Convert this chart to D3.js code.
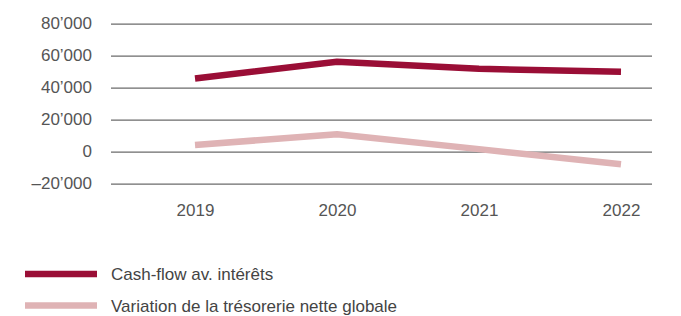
<html>
<head>
    <style>
        body { margin: 0; background: #ffffff; font-family: "Liberation Sans", Helvetica, Arial, sans-serif; }
        svg { display: block; }
    </style>
    <script src="https://cdn.jsdelivr.net/npm/d3@7"></script>
</head>
<body>
<svg id="grafico"></svg>
<script>
    // Datos
    let annees = ["2019", "2020", "2021", "2022"];
    let cashFlow = [45800, 56200, 51800, 50000];
    let variationTresorerie = [4200, 10900, 1600, -7900];
    let ticksY = [-20000, 0, 20000, 40000, 60000, 80000];
    let series = [
        { nom: "Cash-flow av. intérêts", valeurs: cashFlow, couleur: "#9a0e36" },
        { nom: "Variation de la trésorerie nette globale", valeurs: variationTresorerie, couleur: "#dfb3b5" }
    ];

    let ancho = 681, alto = 316;
    let police = "\"Liberation Sans\", Helvetica, Arial, sans-serif";
    let svg = d3.select("#grafico").attr("width", ancho).attr("height", alto);

    let escalaX = d3.scalePoint().domain(annees).range([195, 621]);
    let escalaY = d3.scaleLinear().domain([-20000, 80000]).range([183.7, 23.7]);

    let formato = v => {
        if (v === 0) return "0";
        let s = d3.format(",")(Math.abs(v)).replace(/,/g, "\u2019");
        return (v < 0 ? "\u2013" : "") + s;
    };

    // grille horizontale
    let ejeY = d3.axisLeft(escalaY).tickValues(ticksY).tickFormat(formato)
        .tickSize(-(652 - 111)).tickPadding(19);
    let gY = svg.append("g").attr("transform", "translate(111,0)").call(ejeY);
    gY.select(".domain").remove();
    gY.selectAll("line").attr("stroke", "#6b6b6b").attr("stroke-width", 1.2);
    gY.selectAll("text").attr("fill", "#555").attr("dy", "0.28em")
        .style("font-size", "17px").style("font-family", police);

    // axe des années
    let ejeX = d3.axisBottom(escalaX).tickSize(0).tickPadding(0);
    let gX = svg.append("g").attr("transform", "translate(0,204)").call(ejeX);
    gX.select(".domain").remove();
    gX.selectAll("text").attr("fill", "#555")
        .style("font-size", "17px").style("font-family", police);

    // lignes
    let linea = d3.line().x((d, i) => escalaX(annees[i])).y(d => escalaY(d));
    svg.selectAll(".serie")
        .data(series.slice().reverse())
        .enter().append("path")
        .attr("class", "serie")
        .attr("d", d => linea(d.valeurs))
        .attr("fill", "none")
        .attr("stroke", d => d.couleur)
        .attr("stroke-width", 6.5)
        .attr("stroke-linejoin", "round");

    // légende
    let leyenda = svg.append("g");
    let items = leyenda.selectAll("g").data(series).enter().append("g")
        .attr("transform", (d, i) => `translate(25,${274 + i * 31.5})`);
    items.append("line")
        .attr("x1", 0).attr("x2", 72).attr("y1", 0).attr("y2", 0)
        .attr("stroke", d => d.couleur).attr("stroke-width", 6.5);
    items.append("text")
        .attr("x", 86).attr("y", 6)
        .attr("fill", "#444")
        .style("font-size", "17px").style("font-family", police)
        .text(d => d.nom);
</script>
</body>
</html>
